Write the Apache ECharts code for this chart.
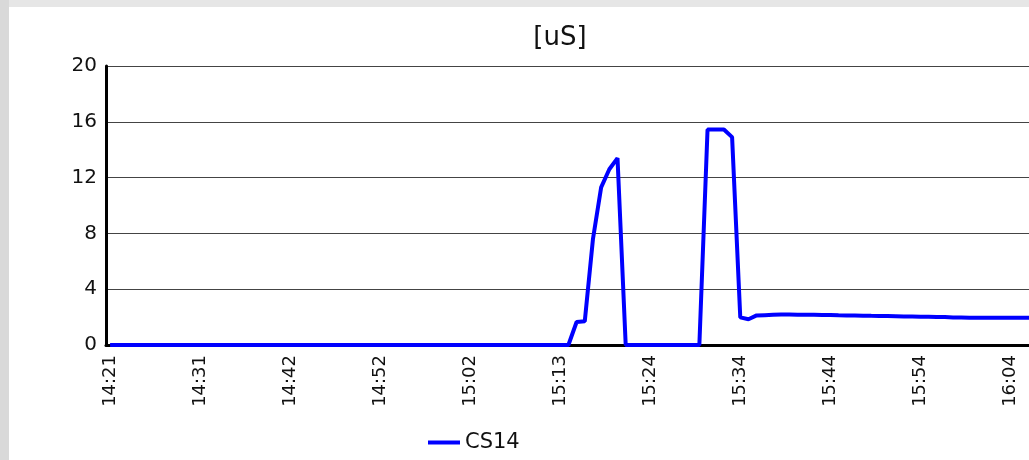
<!DOCTYPE html>
<html>
<head>
<meta charset="utf-8">
<title>CS14</title>
<script src="https://cdn.jsdelivr.net/npm/echarts@6/dist/echarts.min.js"></script>
<style>
html,body{margin:0;padding:0;background:#e4e4e4;}
#main{width:1029px;height:460px;}
</style>
</head>
<body>
<div id="main"></div>
<script>
// time stamps of the samples (every 11th one is shown)
var times = [
    '14:21','14:21','14:22','14:23','14:24','14:25','14:26','14:27','14:28','14:29','14:30',
    '14:31','14:32','14:33','14:34','14:35','14:36','14:37','14:38','14:39','14:40','14:41',
    '14:42','14:42','14:43','14:44','14:45','14:46','14:47','14:48','14:49','14:50','14:51',
    '14:52','14:52','14:53','14:54','14:55','14:56','14:57','14:58','14:59','15:00','15:01',
    '15:02','15:03','15:04','15:05','15:06','15:07','15:08','15:09','15:10','15:11','15:12',
    '15:13','15:14','15:15','15:16','15:17','15:18','15:19','15:20','15:21','15:22','15:23',
    '15:24','15:24','15:25','15:26','15:27','15:28','15:29','15:30','15:31','15:32','15:33',
    '15:34','15:34','15:35','15:36','15:37','15:38','15:39','15:40','15:41','15:42','15:43',
    '15:44','15:44','15:45','15:46','15:47','15:48','15:49','15:50','15:51','15:52','15:53',
    '15:54','15:54','15:55','15:56','15:57','15:58','15:59','16:00','16:01','16:02','16:03',
    '16:04','16:05','16:06','16:07'
];
var cs14 = [
    0,0,0,0,0,0,0,0,0,0,0,
    0,0,0,0,0,0,0,0,0,0,0,
    0,0,0,0,0,0,0,0,0,0,0,
    0,0,0,0,0,0,0,0,0,0,0,
    0,0,0,0,0,0,0,0,0,0,0,
    0,0,1.65,1.7,7.6,11.3,12.6,13.4,0,0,0,
    0,0,0,0,0,0,0,15.45,15.45,15.45,14.9,
    1.98,1.85,2.12,2.14,2.16,2.18,2.18,2.17,2.16,2.16,2.15,
    2.15,2.13,2.12,2.11,2.1,2.09,2.08,2.07,2.06,2.05,2.04,
    2.03,2.02,2.01,2.0,1.98,1.97,1.96,1.96,1.96,1.96,1.96,
    1.96,1.96,1.96,1.96
];
var yMin = 0, yMax = 20, yStep = 4;
var unit = '[uS]';

var chart = echarts.init(document.getElementById('main'));
var font = 'DejaVu Sans, Verdana, sans-serif';
var option = {
    backgroundColor: '#e6e6e6',
    animation: false,
    graphic: [
        {type: 'rect', left: 0, top: 0, shape: {width: 9, height: 460}, style: {fill: '#d9d9d9'}, z: -10},
        {type: 'rect', left: 9, top: 7, shape: {width: 1100, height: 500}, style: {fill: '#fff'}, z: -10},
        {type: 'text', x: 560, y: 38, style: {text: unit, fontFamily: font, fontSize: 26, fill: '#111', textAlign: 'center', textVerticalAlign: 'middle'}}
    ],
    // plot runs past the right edge, like the cut-off original
    grid: {left: 106, top: 66, width: 933, height: 279, containLabel: false, outerBoundsMode: 'none'},
    legend: {
        left: 428, top: 432, padding: 0,
        icon: 'rect',
        itemWidth: 32, itemHeight: 4, itemGap: 2,
        textStyle: {fontFamily: font, fontSize: 21, color: '#111'},
        data: ['CS14']
    },
    xAxis: {
        type: 'category',
        boundaryGap: true,
        data: times,
        axisLine: {lineStyle: {color: '#000', width: 3}},
        axisTick: {show: false},
        axisLabel: {
            interval: 10, rotate: 90, margin: 10,
            fontFamily: font, fontSize: 18, color: '#111'
        },
        splitLine: {show: false}
    },
    yAxis: {
        type: 'value',
        min: yMin, max: yMax, interval: yStep,
        axisLine: {show: true, lineStyle: {color: '#000', width: 3}},
        axisTick: {show: false},
        axisLabel: {margin: 9, fontFamily: font, fontSize: 20, color: '#111'},
        splitLine: {lineStyle: {color: '#444', width: 1}}
    },
    series: [{
        name: 'CS14',
        type: 'line',
        data: cs14,
        symbol: 'none',
        lineStyle: {color: '#0000ff', width: 4},
        itemStyle: {color: '#0000ff'}
    }]
};
chart.setOption(option);
</script>
</body>
</html>
